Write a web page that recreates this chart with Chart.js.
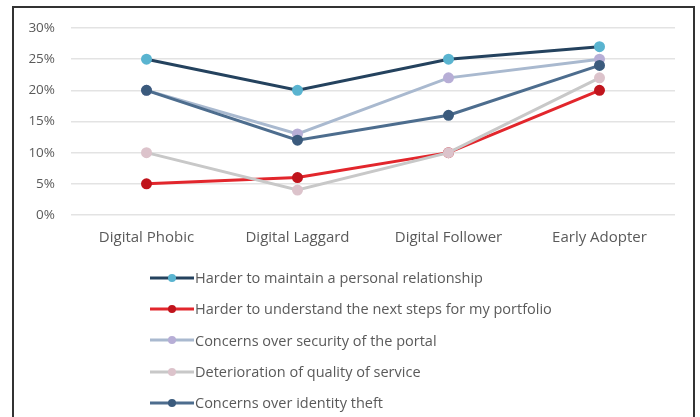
<!DOCTYPE html>
<html>
<head>
<meta charset="utf-8">
<script src="https://cdn.jsdelivr.net/npm/chart.js@4"></script>
<style>
  html, body { margin: 0; padding: 0; background: #fff; }
  #wrap { position: relative; width: 700px; height: 417px; overflow: hidden; }
  #frame { position: absolute; left: 12px; top: 6px; width: 683px; height: 430px; border: 2px solid #333; box-sizing: border-box; }
  #chart { position: absolute; left: 0; top: 0; }
  #legend { position: absolute; left: 150px; top: 262px; font-family: "Open Sans", sans-serif; font-size: 14.5px; color: #5a5a5a; }
  .row { height: 31.3px; display: flex; align-items: center; }
  .row svg { margin-right: 1px; }
</style>
</head>
<body>
<div id="wrap">
  <div id="frame"></div>
  <canvas id="chart" width="700" height="417"></canvas>
  <div id="legend"></div>
</div>
<script>
// Survey segments and the share of each segment citing each concern (%)
const categories = ['Digital Phobic', 'Digital Laggard', 'Digital Follower', 'Early Adopter'];
const seriesNames = [
  'Harder to maintain a personal relationship',
  'Harder to understand the next steps for my portfolio',
  'Concerns over security of the portal',
  'Deterioration of quality of service',
  'Concerns over identity theft'
];
const relationship = [25, 20, 25, 27];
const nextSteps    = [5, 6, 10, 20];
const portalSecurity = [20, 13, 22, 25];
const serviceQuality = [10, 4, 10, 22];
const identityTheft  = [20, 12, 16, 24];
const yTicks = [0, 5, 10, 15, 20, 25, 30];

const lineColors   = ['#24425e', '#e2262c', '#a9b9cf', '#c8c8c8', '#4d6d8e'];
const markerColors = ['#5ab4d0', '#c0141c', '#b7aed6', '#dcc3cb', '#3b5b7d'];
const values = [relationship, nextSteps, portalSecurity, serviceQuality, identityTheft];

const datasets = seriesNames.map((name, i) => ({
  label: name,
  data: values[i],
  borderColor: lineColors[i],
  backgroundColor: markerColors[i],
  pointBackgroundColor: markerColors[i],
  pointBorderColor: markerColors[i],
  pointRadius: 4,
  pointHoverRadius: 4,
  borderWidth: 3,
  tension: 0,
  fill: false,
  order: seriesNames.length - i
}));

const chart = new Chart(document.getElementById('chart'), {
  type: 'line',
  data: { labels: categories, datasets },
  options: {
    responsive: false,
    animation: false,
    layout: { padding: { left: 13, top: 28, right: 25, bottom: 167 } },
    plugins: { legend: { display: false }, tooltip: { enabled: false } },
    scales: {
      x: {
        offset: true,
        grid: { display: false, drawTicks: false },
        border: { display: false },
        ticks: { color: '#5a5a5a', font: { family: 'Open Sans', size: 15 }, padding: 14, maxRotation: 0 },
        afterFit: s => { s.height = 35; }
      },
      y: {
        min: 0, max: 30,
        afterBuildTicks: s => { s.ticks = yTicks.map(v => ({ value: v })); },
        grid: { color: '#e3e3e3', lineWidth: 1.5, drawTicks: false },
        border: { display: false },
        ticks: { color: '#5a5a5a', font: { family: 'Open Sans', size: 13.5 }, padding: 16, callback: v => v + '%' },
        afterFit: s => { s.width = 58; }
      }
    }
  }
});

// Legend: one entry per row, built from the chart's datasets
const legend = document.getElementById('legend');
chart.data.datasets.forEach(ds => {
  const row = document.createElement('div');
  row.className = 'row';
  row.innerHTML =
    '<svg width="44" height="12"><line x1="0" y1="6" x2="44" y2="6" stroke="' + ds.borderColor +
    '" stroke-width="3"/><circle cx="22" cy="6" r="4" fill="' + ds.pointBackgroundColor + '"/></svg>' +
    '<span>' + ds.label + '</span>';
  legend.appendChild(row);
});
</script>
</body>
</html>
